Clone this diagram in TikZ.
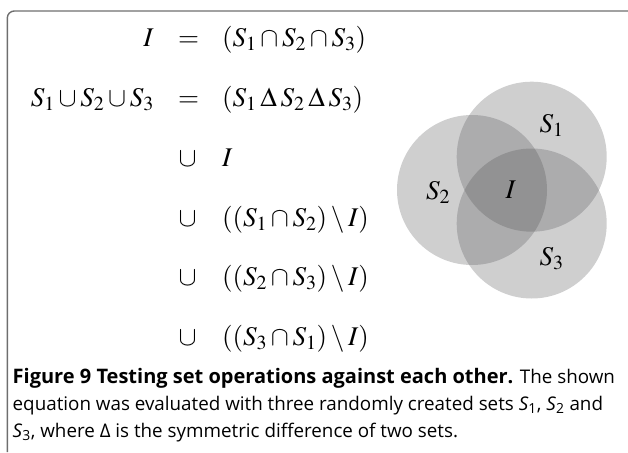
\documentclass[tikz,border=0pt]{standalone}
\usepackage{mathptmx}
\usepackage[no-math]{fontspec}
\newfontfamily\capfont{Open Sans}
\definecolor{framegray}{RGB}{110,110,110}
\definecolor{setgray}{RGB}{77,77,79}
\newcommand{\capbold}[1]{{\fontsize{20}{24}\selectfont\bfseries #1}}
\tikzset{
  eq/.style={inner sep=0pt, font=\fontsize{27}{32}\selectfont},
  lhs/.style={eq, anchor=base east},
  rel/.style={eq, anchor=base},
  rhs/.style={eq, anchor=base west},
  setdisc/.style={circle, minimum size=150pt, inner sep=0pt, fill=setgray, fill opacity=0.27},
  setlabel/.style={eq, anchor=base},
  capline/.style={inner sep=0pt, anchor=base west, font=\capfont\fontsize{18.8}{24}\selectfont}
}
\begin{document}
\begin{tikzpicture}[x=1pt, y=-1pt]
\useasboundingbox (0,0) rectangle (628,452);

% frame
\draw[framegray, line width=1.4pt, rounded corners=7pt] (7.3,452) -- (7.3,11) -- (628,11);

% equation, aligned at the relation column
\node[lhs] (l1) at (154,46) {$I$};
\node[rel] (r1) at (188.5,46) {$=$};
\node[rhs] (t1) at (222,46) {$(S_1\cap S_2\cap S_3)$};

\node[lhs] (l2) at (154,106) {$S_1\cup S_2\cup S_3$};
\node[rel] (r2) at (188.5,106) {$=$};
\node[rhs] (t2) at (222,106) {$(S_1\mathbin{\Delta} S_2\mathbin{\Delta} S_3)$};

\node[rel] (r3) at (187.5,166) {$\cup$};
\node[rhs] (t3) at (222,166) {$I$};

\node[rel] (r4) at (187.5,226) {$\cup$};
\node[rhs] (t4) at (222,226) {$((S_1\cap S_2)\setminus I)$};

\node[rel] (r5) at (187.5,285) {$\cup$};
\node[rhs] (t5) at (222,285) {$((S_2\cap S_3)\setminus I)$};

\node[rel] (r6) at (187.5,345) {$\cup$};
\node[rhs] (t6) at (222,345) {$((S_3\cap S_1)\setminus I)$};

% Venn diagram
\node[setdisc] (c1) at (531.7,156.7) {};
\node[setdisc] (c2) at (472,190) {};
\node[setdisc] (c3) at (531.7,223.5) {};
\node[setlabel] (n1) at (551.7,132) {$S_1$};
\node[setlabel] (n2) at (438,199) {$S_2$};
\node[setlabel] (n0) at (510.7,198) {$I$};
\node[setlabel] (n3) at (551.7,265) {$S_3$};

% caption
\node[capline] (cap1) at (12.5,383) {\capbold{Figure 9 Testing set operations against each other.} The shown};
\node[capline] (cap2) at (12.5,410) {equation was evaluated with three randomly created sets \textit{S}\textsubscript{1}, \textit{S}\textsubscript{2} and};
\node[capline] (cap3) at (12.5,437) {\textit{S}\textsubscript{3}, where Δ is the symmetric difference of two sets.};
\end{tikzpicture}
\end{document}
